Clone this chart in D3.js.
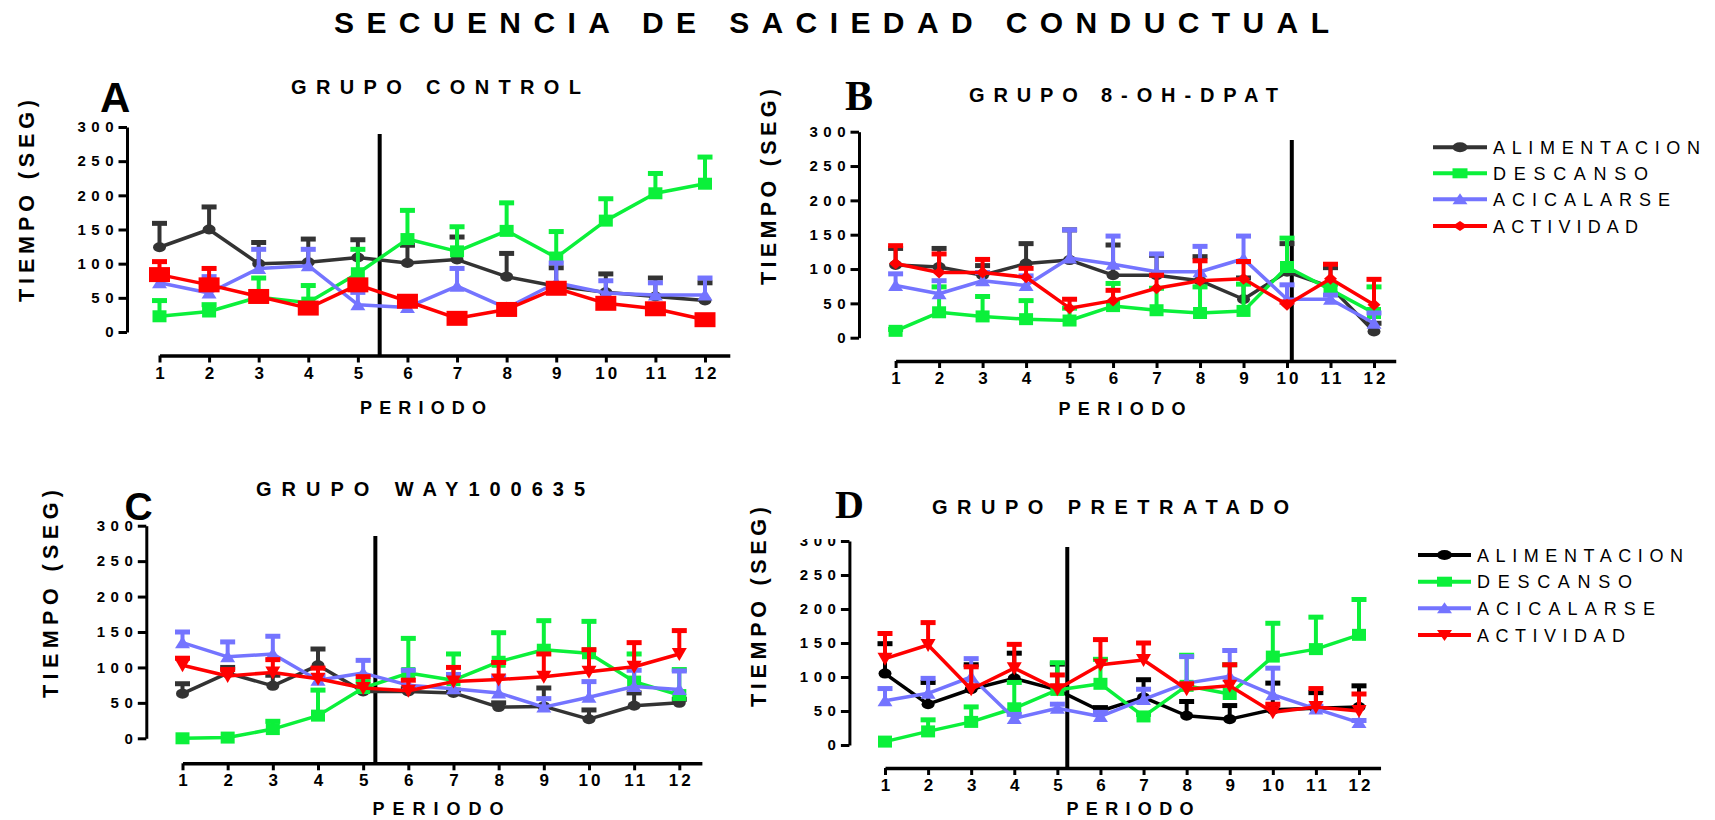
<!DOCTYPE html>
<html>
<head>
<meta charset="utf-8">
<script src="https://cdn.jsdelivr.net/npm/d3@7"></script>
<style>
  body { margin: 0; background: #ffffff; }
  svg { display: block; }
</style>
</head>
<body>
<div id="chart"></div>
<script>
// <-- ************ DATA ************ -->
const PERIODOS = [1, 2, 3, 4, 5, 6, 7, 8, 9, 10, 11, 12];
const Y_TICKS = [0, 50, 100, 150, 200, 250, 300];
const CONDUCTAS = ["ALIMENTACION", "DESCANSO", "ACICALARSE", "ACTIVIDAD"];
const TITULOS = ["GRUPO CONTROL", "GRUPO 8-OH-DPAT", "GRUPO WAY100635", "GRUPO PRETRATADO"];
const LETRAS = ["A", "B", "C", "D"];
const CORTES = [5.44, 10.11, 5.27, 5.23];   // periodo donde va la linea vertical

// media y limite superior (media + error) de cada conducta
const A_ALIMENTACION     = [124, 150, 100, 102, 109, 101, 106, 81, 67, 58, 52, 46];
const A_ALIMENTACION_SUP = [159, 183, 131, 136, 135, 127, 139, 115, 94, 85, 79, 72];
const A_DESCANSO         = [23, 30, 51, 43, 86, 136, 118, 148, 109, 163, 203, 217];
const A_DESCANSO_SUP     = [46, 40, 79, 68, 121, 178, 154, 189, 147, 195, 232, 256];
const A_ACICALARSE       = [72, 57, 93, 97, 40, 36, 67, 35, 72, 57, 54, 54];
const A_ACICALARSE_SUP   = [88, 81, 121, 121, 58, 44, 93, 40, 101, 75, 72, 79];
const A_ACTIVIDAD        = [84, 69, 52, 35, 69, 45, 20, 33, 64, 42, 34, 18];
const A_ACTIVIDAD_SUP    = [103, 93, 57, 38, 72, 47, 22, 40, 68, 45, 38, 20];

const B_ALIMENTACION     = [106, 103, 91, 108, 113, 91, 91, 83, 56, 96, 74, 9];
const B_ALIMENTACION_SUP = [130, 130, 105, 137, 157, 135, 120, 118, 87, 137, 102, 21];
const B_DESCANSO         = [10, 37, 31, 27, 25, 46, 40, 36, 39, 103, 70, 36];
const B_DESCANSO_SUP     = [12, 74, 60, 54, 43, 79, 72, 74, 78, 145, 78, 74];
const B_ACICALARSE       = [76, 64, 83, 76, 116, 107, 96, 96, 115, 56, 56, 21];
const B_ACICALARSE_SUP   = [93, 83, 95, 90, 157, 148, 122, 133, 148, 77, 62, 36];
const B_ACTIVIDAD        = [108, 95, 95, 88, 43, 54, 72, 83, 86, 48, 86, 48];
const B_ACTIVIDAD_SUP    = [134, 122, 114, 101, 56, 69, 91, 112, 111, 52, 107, 85];

const C_ALIMENTACION     = [63, 92, 74, 103, 66, 66, 64, 44, 45, 27, 46, 50];
const C_ALIMENTACION_SUP = [77, 100, 89, 126, 72, 70, 68, 50, 71, 40, 64, 55];
const C_DESCANSO         = [0, 1, 13, 32, 71, 92, 82, 108, 125, 120, 80, 61];
const C_DESCANSO_SUP     = [0, 1, 24, 68, 80, 141, 119, 149, 166, 165, 119, 97];
const C_ACICALARSE       = [135, 115, 119, 82, 92, 75, 70, 64, 44, 58, 73, 69];
const C_ACICALARSE_SUP   = [150, 136, 144, 88, 110, 96, 90, 87, 56, 80, 96, 95];
const C_ACTIVIDAD        = [103, 88, 93, 84, 71, 67, 80, 83, 87, 94, 101, 119];
const C_ACTIVIDAD_SUP    = [113, 97, 111, 99, 87, 82, 100, 107, 119, 125, 135, 152];

const D_ALIMENTACION     = [105, 60, 82, 98, 81, 50, 70, 43, 38, 52, 54, 56];
const D_ALIMENTACION_SUP = [149, 92, 118, 135, 119, 55, 96, 64, 58, 91, 77, 87];
const D_DESCANSO         = [5, 20, 34, 54, 81, 90, 42, 87, 75, 130, 141, 162];
const D_DESCANSO_SUP     = [5, 37, 56, 92, 121, 126, 45, 132, 118, 179, 188, 214];
const D_ACICALARSE       = [65, 76, 100, 39, 54, 42, 67, 91, 101, 74, 53, 33];
const D_ACICALARSE_SUP   = [83, 98, 127, 45, 60, 48, 82, 130, 139, 113, 57, 36];
const D_ACTIVIDAD        = [127, 147, 82, 113, 82, 118, 125, 82, 87, 48, 56, 50];
const D_ACTIVIDAD_SUP    = [164, 180, 115, 148, 103, 155, 150, 90, 118, 60, 83, 75];

// <-- ************ GLOBAL CONSTANTS ************ -->
const FRAME_WIDTH = 1715;
const FRAME_HEIGHT = 820;
const FONT = "'Liberation Sans', Arial, sans-serif";
const SERIF = "'Liberation Serif', 'Times New Roman', serif";

const GRIS = "#333333";
const VERDE = "#0bf03a";
const AZUL = "#7474ff";
const ROJO = "#ff0000";

// marcas: tipo, ancho, alto
const M_CIRC = {t: "ellipse", w: 13, h: 10};
const M_CUAD = {t: "rect", w: 14, h: 12};
const M_TRI = {t: "up", w: 15, h: 11};
const M_CUAD_G = {t: "rect", w: 21, h: 15};
const M_ROMBO = {t: "diamond", w: 13, h: 12};
const M_TRI_INV = {t: "down", w: 15, h: 12};

// layout of each panel (pixels)
const LAYOUT = [
  {ax: 127, y0: 332, y300: 127, xAxisY: 355.5, x1: 159.5, x12: 705, vTop: 134, tickY: 374,
   perX: 423, perY: 407, perW: 126, titX: 291, titY: 87, titW: 290,
   letX: 100, letY: 112, letSize: 42, serif: false, labX: 26, labY: 201, labW: 202},
  {ax: 859, y0: 337.7, y300: 131.7, xAxisY: 361, x1: 895.6, x12: 1374, vTop: 140, tickY: 380,
   perX: 1122, perY: 408, perW: 127, titX: 969, titY: 95, titW: 309,
   letX: 845, letY: 110, letSize: 42, serif: true, labX: 768, labY: 187, labW: 196},
  {ax: 146.3, y0: 738.3, y300: 525.7, xAxisY: 763.3, x1: 182.5, x12: 679.3, vTop: 536, tickY: 782,
   perX: 438, perY: 808, perW: 131, titX: 256, titY: 489, titW: 329,
   letX: 124.5, letY: 520, letSize: 39, serif: false, labX: 50, labY: 594, labW: 208},
  {ax: 849.4, y0: 745, y300: 541, xAxisY: 768, x1: 885, x12: 1359, vTop: 547, tickY: 787,
   perX: 1130, perY: 808, perW: 127, titX: 932, titY: 507, titW: 357,
   letX: 835, letY: 518, letSize: 40, serif: true, labX: 758, labY: 607, labW: 200}
];

const SERIES = [
  [[A_ALIMENTACION, A_ALIMENTACION_SUP, GRIS, M_CIRC], [A_DESCANSO, A_DESCANSO_SUP, VERDE, M_CUAD],
   [A_ACICALARSE, A_ACICALARSE_SUP, AZUL, M_TRI], [A_ACTIVIDAD, A_ACTIVIDAD_SUP, ROJO, M_CUAD_G]],
  [[B_ALIMENTACION, B_ALIMENTACION_SUP, GRIS, M_CIRC], [B_DESCANSO, B_DESCANSO_SUP, VERDE, M_CUAD],
   [B_ACICALARSE, B_ACICALARSE_SUP, AZUL, M_TRI], [B_ACTIVIDAD, B_ACTIVIDAD_SUP, ROJO, M_ROMBO]],
  [[C_ALIMENTACION, C_ALIMENTACION_SUP, GRIS, M_CIRC], [C_DESCANSO, C_DESCANSO_SUP, VERDE, M_CUAD],
   [C_ACICALARSE, C_ACICALARSE_SUP, AZUL, M_TRI], [C_ACTIVIDAD, C_ACTIVIDAD_SUP, ROJO, M_TRI_INV]],
  [[D_ALIMENTACION, D_ALIMENTACION_SUP, "#000000", M_CIRC], [D_DESCANSO, D_DESCANSO_SUP, VERDE, M_CUAD],
   [D_ACICALARSE, D_ACICALARSE_SUP, AZUL, M_TRI], [D_ACTIVIDAD, D_ACTIVIDAD_SUP, ROJO, M_TRI_INV]]
];

const SVG = d3.select("#chart")
  .append("svg")
  .attr("width", FRAME_WIDTH)
  .attr("height", FRAME_HEIGHT)
  .style("font-family", FONT);

// <-- ************ HELPERS ************ -->
function markPath(m) {
  const w = m.w / 2, h = m.h / 2;
  if (m.t === "rect") return `M${-w},${-h}H${w}V${h}H${-w}Z`;
  if (m.t === "up") return `M0,${-h - 1}L${w},${h}L${-w},${h}Z`;
  if (m.t === "down") return `M0,${h + 1}L${w},${-h}L${-w},${-h}Z`;
  if (m.t === "diamond") return `M0,${-h}L${w},0L0,${h}L${-w},0Z`;
  // ellipse
  return `M${-w},0A${w},${h} 0 1,0 ${w},0A${w},${h} 0 1,0 ${-w},0Z`;
}

// <-- ************ MAIN TITLE ************ -->
SVG.append("text")
  .attr("x", 334)
  .attr("y", 33)
  .attr("font-size", 30)
  .attr("font-weight", "bold")
  .attr("textLength", 995)
  .attr("lengthAdjust", "spacing")
  .text("SECUENCIA DE SACIEDAD CONDUCTUAL");

// clip for the cut "300" label of panel D
SVG.append("defs").append("clipPath")
  .attr("id", "clipD")
  .append("rect")
  .attr("x", -120).attr("y", 539).attr("width", 140).attr("height", 260);

// <-- ************ PANELS ************ -->
LAYOUT.forEach((L, i) => {
  const g = SVG.append("g");
  const step = (L.x12 - L.x1) / 11;

  const X_SCALE = d3.scaleLinear()
                    .domain([1, 12.5])
                    .range([L.x1, L.x1 + 11.5 * step]);
  const Y_SCALE = d3.scaleLinear()
                    .domain([0, 300])
                    .range([L.y0, L.y300]);

  // Y AXIS
  const yAx = g.append("g")
    .attr("transform", "translate(" + L.ax + ",0)")
    .call(d3.axisLeft(Y_SCALE).tickValues(Y_TICKS).tickSize(8.5).tickSizeOuter(0).tickPadding(5))
    .attr("font-family", FONT)
    .attr("font-size", 15)
    .attr("font-weight", "bold");
  yAx.select(".domain").attr("stroke-width", 3).attr("stroke", "#000");
  yAx.selectAll(".tick line").attr("stroke-width", 3).attr("stroke", "#000");
  yAx.selectAll(".tick text").attr("letter-spacing", 5.5).attr("dx", 5.5).attr("fill", "#000");
  if (i === 3) yAx.attr("clip-path", "url(#clipD)");

  // X AXIS
  const xAx = g.append("g")
    .attr("transform", "translate(0," + L.xAxisY + ")")
    .call(d3.axisBottom(X_SCALE).tickValues(PERIODOS).tickSize(7).tickSizeOuter(0).tickPadding(4))
    .attr("font-family", FONT)
    .attr("font-size", 17)
    .attr("font-weight", "bold");
  xAx.select(".domain").attr("stroke-width", 3.5).attr("stroke", "#000");
  xAx.selectAll(".tick line").attr("stroke-width", 3).attr("stroke", "#000");
  xAx.selectAll(".tick text").attr("letter-spacing", 3).attr("dx", 1.5).attr("fill", "#000");

  // VERTICAL LINE
  g.append("line")
    .attr("x1", X_SCALE(CORTES[i])).attr("x2", X_SCALE(CORTES[i]))
    .attr("y1", L.vTop).attr("y2", L.xAxisY)
    .attr("stroke", "#000")
    .attr("stroke-width", 4);

  // SERIES
  SERIES[i].forEach((s) => {
    const [vals, sup, color, mark] = s;
    const sg = g.append("g");

    // error bars (upper only)
    PERIODOS.forEach((p, k) => {
      if (sup[k] - vals[k] < 1) return;
      sg.append("line")
        .attr("x1", X_SCALE(p)).attr("x2", X_SCALE(p))
        .attr("y1", Y_SCALE(vals[k])).attr("y2", Y_SCALE(sup[k]))
        .attr("stroke", color).attr("stroke-width", 4);
      sg.append("line")
        .attr("x1", X_SCALE(p) - 7.5).attr("x2", X_SCALE(p) + 7.5)
        .attr("y1", Y_SCALE(sup[k])).attr("y2", Y_SCALE(sup[k]))
        .attr("stroke", color).attr("stroke-width", 5);
    });

    sg.append("path")
      .datum(PERIODOS)
      .attr("fill", "none")
      .attr("stroke", color)
      .attr("stroke-width", 3.5)
      .attr("stroke-linejoin", "round")
      .attr("d", d3.line().x((p) => X_SCALE(p)).y((p, k) => Y_SCALE(vals[k])));

    sg.selectAll("path.mk")
      .data(PERIODOS)
      .enter()
      .append("path")
      .attr("class", "mk")
      .attr("transform", (p, k) => "translate(" + X_SCALE(p) + "," + Y_SCALE(vals[k]) + ")")
      .attr("d", markPath(mark))
      .attr("fill", color);
  });

  // LABELS
  g.append("text")
    .attr("x", L.titX).attr("y", L.titY + 7)
    .attr("font-size", 20).attr("font-weight", "bold")
    .attr("textLength", L.titW).attr("lengthAdjust", "spacing")
    .text(TITULOS[i]);

  g.append("text")
    .attr("x", L.perX - L.perW / 2).attr("y", L.perY + 6.5)
    .attr("font-size", 18).attr("font-weight", "bold")
    .attr("textLength", L.perW).attr("lengthAdjust", "spacing")
    .text("PERIODO");

  g.append("text")
    .attr("transform", "translate(" + (L.labX + 7.5) + "," + (L.labY + L.labW / 2) + ") rotate(-90)")
    .attr("font-size", 21.5).attr("font-weight", "bold")
    .attr("textLength", L.labW).attr("lengthAdjust", "spacing")
    .text("TIEMPO (SEG)");

  g.append("text")
    .attr("x", L.letX).attr("y", L.letY)
    .attr("font-size", L.letSize).attr("font-weight", "bold")
    .attr("font-family", L.serif ? SERIF : FONT)
    .text(LETRAS[i]);
});

// <-- ************ LEGENDS ************ -->
const LEGENDS = [
  {x0: 1433, x1: 1487, tx: 1493, rows: [147.3, 173.3, 199.3, 226], widths: [207, 155, 177, 145],
   colors: [GRIS, VERDE, AZUL, ROJO], marks: [M_CIRC, M_CUAD, M_TRI, M_ROMBO]},
  {x0: 1418, x1: 1471, tx: 1477, rows: [555, 581.7, 608.3, 635], widths: [206, 155, 178, 148],
   colors: ["#000000", VERDE, AZUL, ROJO], marks: [M_CIRC, M_CUAD, M_TRI, M_TRI_INV]}
];

LEGENDS.forEach((lg) => {
  const g = SVG.append("g");
  CONDUCTAS.forEach((name, k) => {
    const y = lg.rows[k];
    g.append("line")
      .attr("x1", lg.x0).attr("x2", lg.x1)
      .attr("y1", y).attr("y2", y)
      .attr("stroke", lg.colors[k]).attr("stroke-width", 4);
    const m = Object.assign({}, lg.marks[k], {w: 15, h: 10});
    g.append("path")
      .attr("transform", "translate(" + ((lg.x0 + lg.x1) / 2) + "," + y + ")")
      .attr("d", markPath(m))
      .attr("fill", lg.colors[k]);
    g.append("text")
      .attr("x", lg.tx).attr("y", y + 6.5)
      .attr("font-size", 18)
      .attr("textLength", lg.widths[k]).attr("lengthAdjust", "spacing")
      .text(name);
  });
});
</script>
</body>
</html>
